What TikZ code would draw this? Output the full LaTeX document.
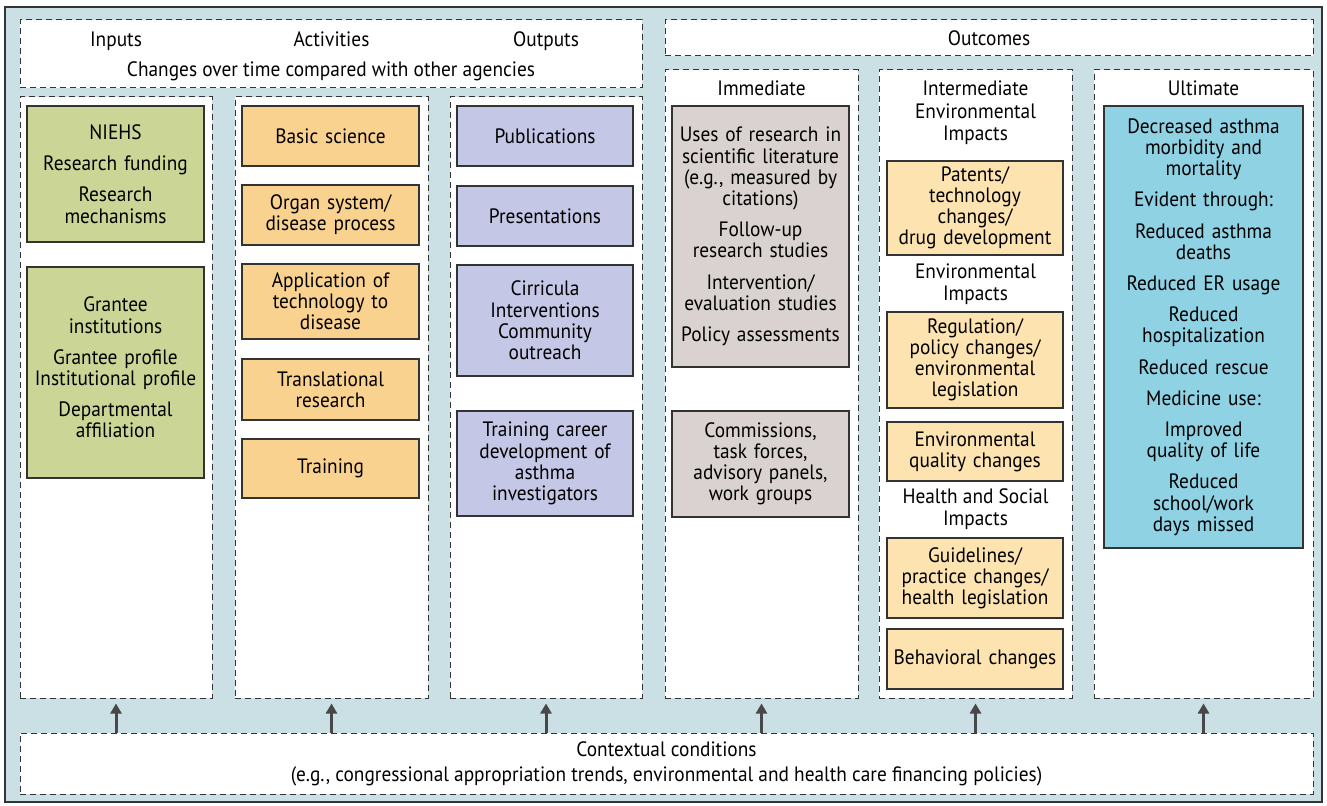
\documentclass[tikz,border=0pt]{standalone}
\usepackage{fontspec}
\setmainfont{PT Sans}[FakeStretch=0.93]
\usetikzlibrary{arrows.meta, positioning}
\definecolor{bgc}{RGB}{203, 224, 228}
\definecolor{grn}{RGB}{203, 214, 150}
\definecolor{org}{RGB}{250, 210, 143}
\definecolor{pur}{RGB}{197, 199, 230}
\definecolor{imc}{RGB}{218, 210, 208}
\definecolor{lto}{RGB}{253, 227, 176}
\definecolor{ulc}{RGB}{143, 210, 228}
\definecolor{dk}{HTML}{333333}
\definecolor{ar}{HTML}{484848}

\tikzset{
    frame/.style={draw=dk, line width=0.8pt, fill=bgc},
    dbox/.style={draw=dk, fill=white, line width=0.5pt, dash pattern=on 3pt off 2pt,
        inner sep=0pt},
    sbox/.style={draw=dk, line width=0.9pt, inner sep=0pt, align=center,
        font=\fontsize{10.4}{10.6}\selectfont},
    inbox/.style={sbox, fill=grn},
    actbox/.style={sbox, fill=org},
    outbox/.style={sbox, fill=pur},
    immbox/.style={sbox, fill=imc},
    intbox/.style={sbox, fill=lto},
    ultbox/.style={sbox, fill=ulc},
    lbl/.style={inner sep=0pt, align=center, font=\fontsize{10.4}{11.2}\selectfont},
    arr/.style={-{Triangle[width=5.5pt,length=5pt]}, line width=1.5pt, draw=ar}
}

\begin{document}
\begin{tikzpicture}[x=0.5pt, y=-0.5pt]
    \useasboundingbox (0,0) rectangle (1327,806);
    % Background frame
    \draw[frame] (5,7) rectangle (1322,802);

    % Headers
    \node[dbox, minimum width=311pt, minimum height=34pt] (hleft) at (331,54) {};
    \node[dbox, minimum width=324pt, minimum height=18pt] (hright) at (989,38) {};
    \node[lbl, anchor=base] (tinp) at (116,47) {Inputs};
    \node[lbl, anchor=base] (tact) at (331.5,47) {Activities};
    \node[lbl, anchor=base] (tout) at (546,47) {Outputs};
    \node[lbl] (tchg) at (331,71) {Changes over time compared with other agencies};
    \node[lbl] (tocm) at (989,38) {Outcomes};

    % Columns
    \node[dbox, minimum width=96pt, minimum height=300.5pt] (inp) at (116,397.5) {};
    \node[dbox, minimum width=96.5pt, minimum height=300.5pt] (act) at (331.5,397.5) {};
    \node[dbox, minimum width=96pt, minimum height=300.5pt] (outp) at (546,397.5) {};
    \node[dbox, minimum width=96.5pt, minimum height=314pt] (imm) at (761.5,384) {};
    \node[dbox, minimum width=96.5pt, minimum height=314pt] (inter) at (975.5,384) {};
    \node[dbox, minimum width=109.5pt, minimum height=314pt] (ult) at (1203.5,384) {};

    % Contextual conditions
    \node[dbox, minimum width=646.5pt, minimum height=30.5pt] (ctx) at (666.5,763.5) {};
    \node[lbl] (tctx) at (666.5,764) {Contextual conditions\\[1pt]
        (e.g., congressional appropriation trends, environmental and health care financing policies)};

    % Inputs
    \node[inbox, minimum width=88.5pt, minimum height=68pt, text width=86pt] (niehs) at (115.5,174)
        {NIEHS\\[5pt] Research funding\\[5pt] Research\\mechanisms};
    \node[inbox, minimum width=88.5pt, minimum height=105.5pt, text width=86pt] (grant) at (115.5,372.5)
        {\\[-8pt]Grantee\\institutions\\[5pt] Grantee profile\\Institutional profile\\[5pt] Departmental\\affiliation};

    % Activities
    \node[actbox, minimum width=88.5pt, minimum height=30pt, text width=86pt] (basic) at (330.5,136) {Basic science};
    \node[actbox, minimum width=88.5pt, minimum height=30pt, text width=86pt] (organ) at (330.5,215) {Organ system/\\disease process};
    \node[actbox, minimum width=88.5pt, minimum height=37.5pt, text width=86pt] (appl) at (330.5,301.5) {Application of\\technology to\\disease};
    \node[actbox, minimum width=88.5pt, minimum height=30.5pt, text width=86pt] (transl) at (330.5,389.5) {Translational\\research};
    \node[actbox, minimum width=88.5pt, minimum height=29.5pt, text width=86pt] (train) at (330.5,468.5) {Training};

    % Outputs
    \node[outbox, minimum width=88pt, minimum height=30pt, text width=86pt] (pub) at (545,136) {Publications};
    \node[outbox, minimum width=88pt, minimum height=30pt, text width=86pt] (pres) at (545,216) {Presentations};
    \node[outbox, minimum width=88pt, minimum height=55.5pt, text width=86pt] (curr) at (545,320.5) {Cirricula\\Interventions\\Community\\outreach};
    \node[outbox, minimum width=88pt, minimum height=52.5pt, text width=86pt] (career) at (545,463.5) {Training career\\development of\\asthma\\investigators};

    % Immediate
    \node[lbl] (timm) at (761.5,88) {Immediate};
    \node[immbox, minimum width=88.5pt, minimum height=130.5pt, text width=87pt] (uses) at (760.5,236.5)
        {Uses of research in\\scientific literature\\(e.g., measured by\\citations)\\[5pt] Follow-up\\research studies\\[5pt]
         Intervention/\\evaluation studies\\[5pt] Policy assessments};
    \node[immbox, minimum width=88.5pt, minimum height=53pt, text width=87pt] (comm) at (760.5,464)
        {Commissions,\\task forces,\\advisory panels,\\work groups};

    % Intermediate
    \node[lbl] (tint) at (975.5,88) {Intermediate};
    \node[lbl] (tenv1) at (975.5,124) {Environmental\\Impacts};
    \node[intbox, minimum width=88pt, minimum height=47pt, text width=87pt] (pat) at (975,208)
        {Patents/\\technology\\changes/\\drug development};
    \node[lbl] (tenv2) at (975.5,284) {Environmental\\Impacts};
    \node[intbox, minimum width=88pt, minimum height=48pt, text width=87pt] (regul) at (975,360)
        {Regulation/\\policy changes/\\environmental\\legislation};
    \node[intbox, minimum width=88pt, minimum height=29.5pt, text width=87pt] (envq) at (975,451.5)
        {Environmental\\quality changes};
    \node[lbl] (thlth) at (975.5,509) {Health and Social\\Impacts};
    \node[intbox, minimum width=88pt, minimum height=40pt, text width=87pt] (guide) at (975,578)
        {Guidelines/\\practice changes/\\health legislation};
    \node[intbox, minimum width=88pt, minimum height=30pt, text width=87pt] (behav) at (975,659)
        {Behavioral changes};

    % Ultimate
    \node[ultbox, minimum width=99.5pt, minimum height=221pt, text width=97pt] (decr) at (1203.5,327)
        {Decreased asthma\\morbidity and\\mortality\\[5pt] Evident through:\\[5pt] Reduced asthma\\deaths\\[5pt]
         Reduced ER usage\\[5pt] Reduced\\hospitalization\\[5pt] Reduced rescue\\[5pt] Medicine use:\\[5pt]
         Improved\\quality of life\\[5pt] Reduced\\school/work\\days missed};
    \node[lbl] (tult) at (1203.5,88) {Ultimate};

    % Arrows from context
    \foreach \c in {inp, act, outp, imm, inter, ult} {
        \draw[arr, shorten >=2.5pt] (ctx.north -| \c.south) -- (\c.south);
    }
\end{tikzpicture}
\end{document}
